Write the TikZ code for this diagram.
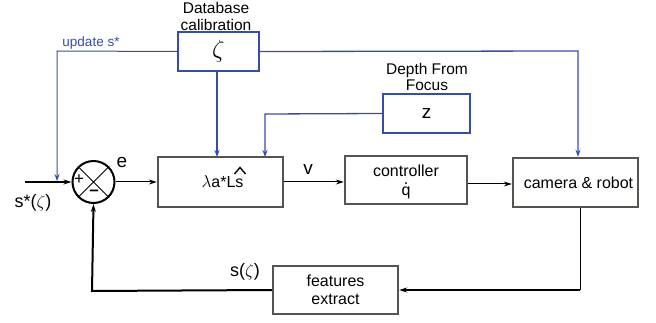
\documentclass[tikz,border=0pt]{standalone}
\usepackage{fontspec}
\setmainfont{Liberation Sans}
\usetikzlibrary{arrows.meta,calc}
\definecolor{blueln}{RGB}{52,78,168}
\definecolor{grayln}{RGB}{85,85,80}
\tikzset{
  bbox/.style={draw=grayln,line width=2.4pt,fill=white,inner sep=0pt,font=\fontsize{16}{18}\selectfont,align=center},
  blbox/.style={draw=blueln,line width=2.4pt,fill=white,inner sep=0pt},
  lbl/.style={font=\fontsize{15.5}{16.5}\selectfont,align=center,inner sep=0pt},
  blarrow/.style={draw=blueln,-{Stealth[length=7pt,width=5pt]}},
  bkarrow/.style={draw=black,-{Stealth[length=8pt,width=5pt]}},
}
\begin{document}
\begin{tikzpicture}[x=1pt,y=-1pt]
\useasboundingbox (0,0) rectangle (656,323);
% nodes
\node[blbox,minimum width=81pt,minimum height=39pt] (zeta) at (218.5,51.5) {\fontsize{28}{28}\selectfont$\zeta$};
\node[lbl] (dbl) at (216,16.5) {Database\\calibration};
\node[blbox,minimum width=87pt,minimum height=39pt] (zb) at (426.5,113.5) {\fontsize{19}{19}\selectfont z};
\node[lbl] (dff) at (427,77) {Depth From\\Focus};
\node[bbox,minimum width=125pt,minimum height=50pt] (lam) at (220.5,182) {\hspace{4pt}$\lambda$a*Ls};
\node[bbox,minimum width=122pt,minimum height=48pt] (ctrl) at (406,180) {controller\\[1pt]\ooalign{q\cr\hidewidth\raisebox{10.5pt}{.}\hidewidth\cr}};
\node[bbox,minimum width=125pt,minimum height=49pt] (cam) at (575.5,182.5) {\hspace{6pt}camera \& robot};
\node[bbox,minimum width=125pt,minimum height=48pt] (feat) at (335.5,290) {features\\extract};
\node[draw=black,line width=2pt,circle,minimum size=42pt,inner sep=0pt] (sum) at (93.5,182) {};
\draw[line width=0.9pt] (sum.45) -- (sum.225) (sum.135) -- (sum.315);
\node[font=\fontsize{17}{17}\selectfont,inner sep=0pt] (plus) at (79,180) {+};
\node[font=\fontsize{17}{17}\selectfont,inner sep=0pt] (minus) at (94,193) {\textbf{–}};
% hat over Ls
\draw[line width=1.4pt,line join=miter] (234.5,174) -- (240,167.5) -- (245.5,174);
% labels
\node[font=\fontsize{13.5}{14}\selectfont,text=blueln,inner sep=0pt] (upd) at (91,43) {update s*};
\node[font=\fontsize{19}{19}\selectfont,inner sep=0pt] (elbl) at (122,162) {e};
\node[font=\fontsize{19}{19}\selectfont,inner sep=0pt] (vlbl) at (308,169) {v};
\node[font=\fontsize{18}{18}\selectfont,inner sep=0pt] (sin) at (33,203) {s*($\zeta$)};
\node[font=\fontsize{18}{18}\selectfont,inner sep=0pt] (sout) at (245,272) {s($\zeta$)};
% coordinates
\coordinate (inL) at (25,182);
\coordinate (updC) at (57,51);
\coordinate (updE) at (57,181);
\coordinate (rtC) at (578,51);
\coordinate (zC) at (265,114);
\coordinate (camC) at (580,290);
\coordinate (fbC) at (92,291);
\coordinate (ctrlO) at ($(ctrl.east)+(0,4)$);
% blue connectors
\draw[blarrow,line width=1pt] (zeta.west) -- (updC) -- (updE);
\draw[blarrow,line width=1.3pt] (zeta.east) -- (rtC) -- (rtC |- cam.north);
\draw[blarrow,line width=2pt] (zeta.south -| 217,0) -- (217,157);
\draw[blarrow,line width=1.3pt] (zb.west) -- (zC) -- (265,157);
% black connectors
\draw[bkarrow,line width=2pt] (inL) -- (sum.west);
\draw[bkarrow,line width=1pt] (sum.east) -- (lam.west);
\draw[bkarrow,line width=1pt] (lam.east) -- (lam.east -| ctrl.west);
\draw[bkarrow,line width=1pt] (ctrlO) -- (ctrlO -| cam.west);
\draw[line width=1pt] (cam.south -| camC) -- (camC);
\draw[bkarrow,line width=2pt] (camC) -- (feat.east);
\draw[bkarrow,line width=2pt] (feat.west) -- (fbC) -- (sum.south);
\end{tikzpicture}
\end{document}
